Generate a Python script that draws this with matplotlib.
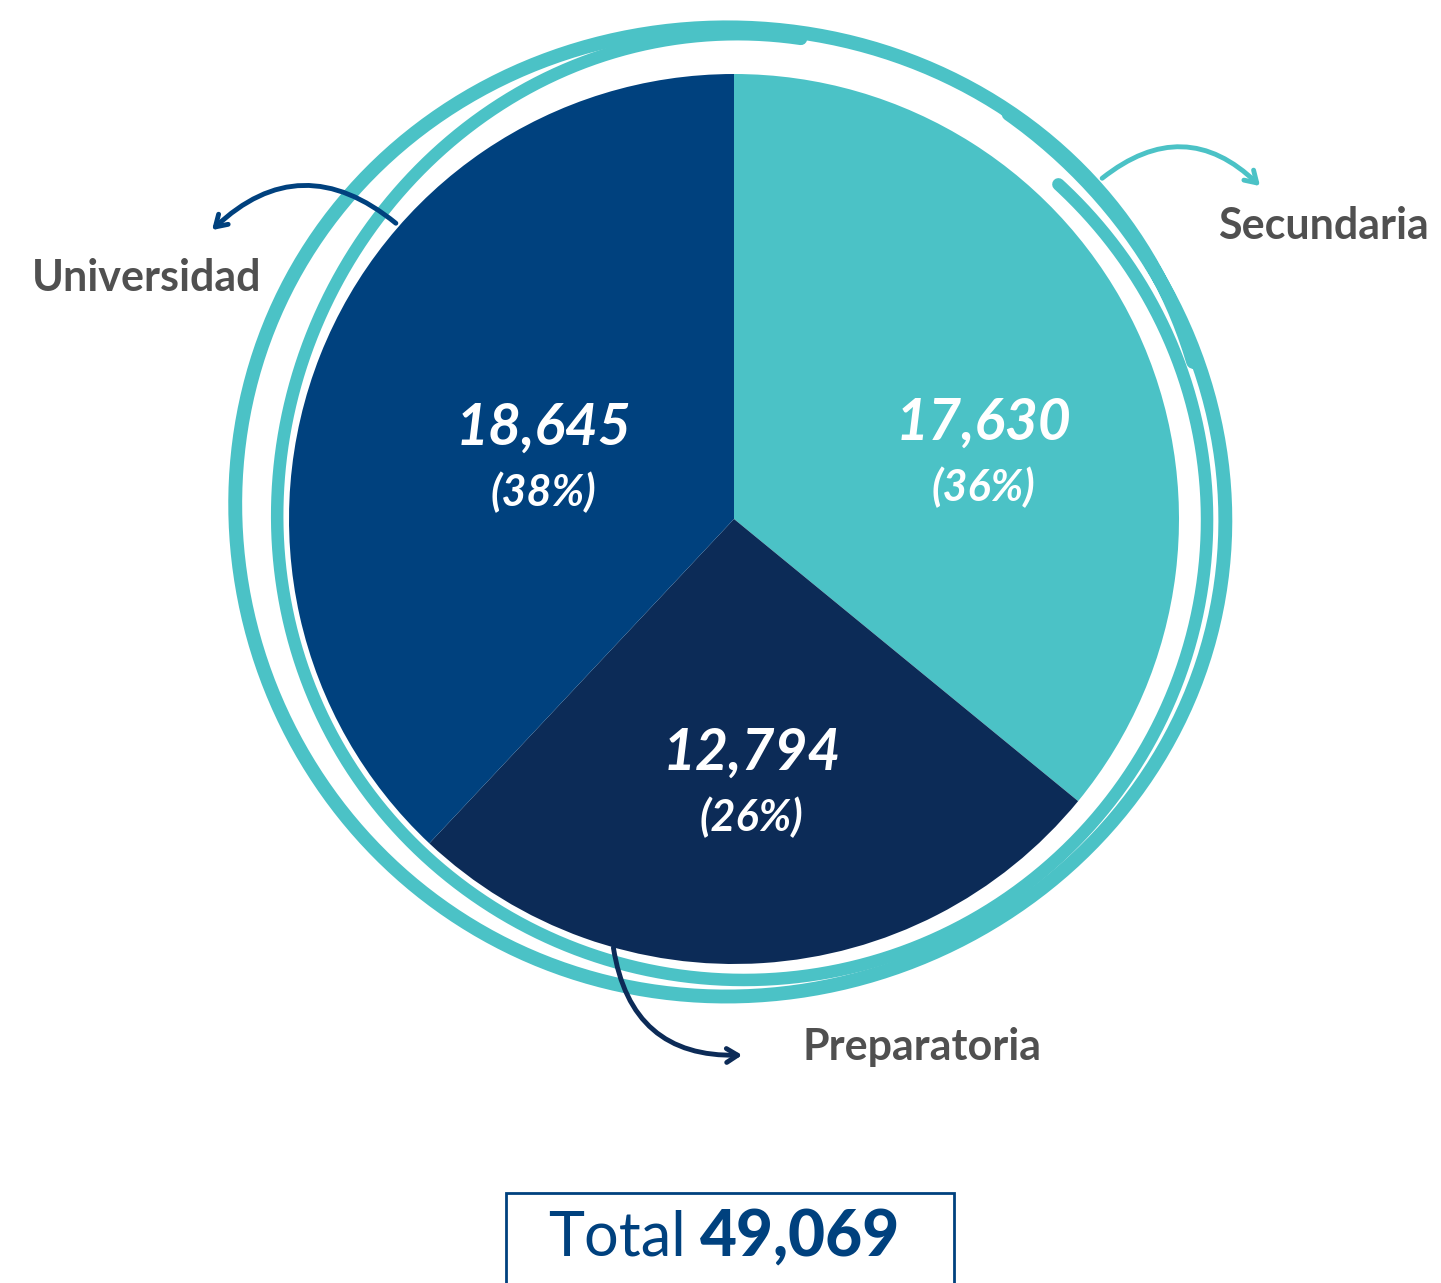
import numpy as np
import matplotlib.pyplot as plt
from matplotlib.patches import Rectangle

plt.rcParams['font.family'] = ['Lato', 'DejaVu Sans']

# data
categorias = ['Secundaria', 'Preparatoria', 'Universidad']
valores = [17630, 12794, 18645]
colores = ['#4BC2C6', '#0C2B57', '#00417E']
total = 49069

W, H = 1441, 1283
fig = plt.figure(figsize=(W / 100, H / 100), dpi=100)
ax = fig.add_axes([0, 0, 1, 1])
ax.set_aspect('equal')

cx, cy, r = 734, H - 519, 445

# sketchy hand drawn circle behind the pie
teal = '#4BC2C6'
t = np.linspace(0.1 * np.pi, 2.3 * np.pi, 500)
rx = 494 + 14 * np.sin(1.3 * t)
ry = 486 + 10 * np.cos(0.9 * t)
ax.plot(718 + rx * np.cos(t), H - 515 + ry * np.sin(t), color=teal, lw=10,
        solid_capstyle='round', zorder=1)
t2 = np.linspace(0.45 * np.pi, 2.25 * np.pi, 500)
rx2 = 466 + 16 * np.cos(1.1 * t2)
ry2 = 466 + 12 * np.sin(1.4 * t2)
ax.plot(728 + rx2 * np.cos(t2), H - 510 + ry2 * np.sin(t2), color=teal, lw=9,
        solid_capstyle='round', zorder=1)

wedges, _ = ax.pie(valores, colors=colores, startangle=90, counterclock=False,
                   center=(cx, cy), radius=r, frame=True,
                   wedgeprops=dict(linewidth=0, zorder=3))
ax.set_xlim(0, W)
ax.set_ylim(0, H)
ax.axis('off')

# value labels
pcts = [round(v / sum(valores) * 100) for v in valores]
label_r = [0.62, 0.6, 0.46]
nudge = [-54, 0, -17]
for w_, v, p, lr, dy in zip(wedges, valores, pcts, label_r, nudge):
    mid = np.deg2rad((w_.theta1 + w_.theta2) / 2)
    x = cx + lr * r * np.cos(mid)
    y = cy + lr * r * np.sin(mid) + dy
    ax.text(x, y + 32, f'{v:,}', color='white', fontsize=41, fontweight='bold',
            fontstyle='italic', ha='center', va='center', zorder=5)
    ax.text(x, y - 32, f'({p}%)', color='white', fontsize=31, fontweight='bold',
            fontstyle='italic', ha='center', va='center', zorder=5)

# category labels with curved arrows
gris = '#505050'
ax.text(1218, H - 226, 'Secundaria', color=gris, fontsize=31, fontweight='bold',
        ha='left', va='center')
ax.text(32, H - 278, 'Universidad', color=gris, fontsize=31, fontweight='bold',
        ha='left', va='center')
ax.text(802, H - 1047, 'Preparatoria', color=gris, fontsize=31, fontweight='bold',
        ha='left', va='center')

arrow = '->,head_length=0.8,head_width=0.5'
ax.annotate('', xy=(1262, H - 188), xytext=(1100, H - 180),
            arrowprops=dict(arrowstyle=arrow, color=teal,
                            lw=3.5, connectionstyle='arc3,rad=-0.45'), zorder=6)
ax.annotate('', xy=(210, H - 232), xytext=(398, H - 225),
            arrowprops=dict(arrowstyle=arrow, color='#00417E',
                            lw=3.5, connectionstyle='arc3,rad=0.45'), zorder=6)
ax.annotate('', xy=(745, H - 1055), xytext=(613, H - 945),
            arrowprops=dict(arrowstyle=arrow, color='#0C2B57',
                            lw=3.5, connectionstyle='arc3,rad=0.45'), zorder=6)

# total box
ax.add_patch(Rectangle((506, -10), 448, H - 1193 + 10, fill=False,
                       edgecolor='#00417E', lw=2, zorder=4))
ax.text(686, H - 1238, 'Total', color='#00417E', fontsize=44, fontweight='normal',
        ha='right', va='center')
ax.text(700, H - 1238, f'{total:,}', color='#00417E', fontsize=46, fontweight='black',
        ha='left', va='center')

fig.savefig('out.png', dpi=100)
